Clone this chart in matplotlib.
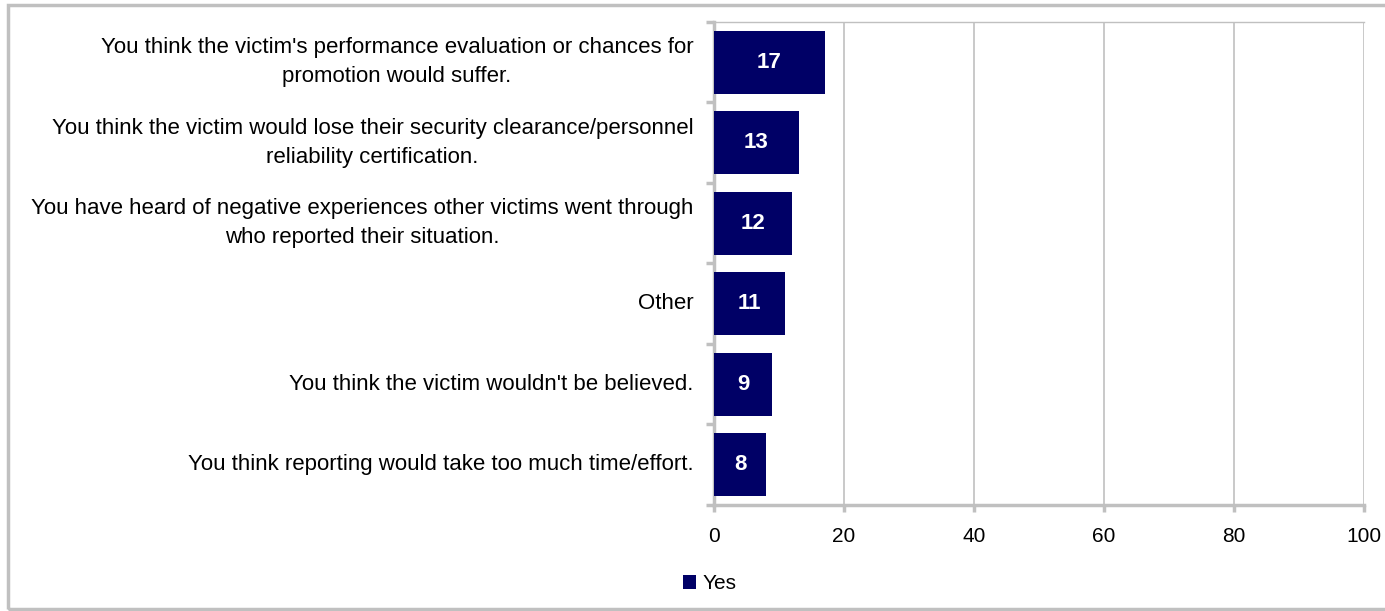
import matplotlib.pyplot as plt
from matplotlib.patches import Rectangle

plt.rcParams['font.family'] = ['Liberation Sans', 'DejaVu Sans']

# categories from top to bottom
categories = [
    "You think the victim's performance evaluation or chances for\npromotion would suffer.",
    "You think the victim would lose their security clearance/personnel\nreliability certification.",
    "You have heard of negative experiences other victims went through\nwho reported their situation.",
    "Other",
    "You think the victim wouldn't be believed.",
    "You think reporting would take too much time/effort.",
]
yes_values = [17, 13, 12, 11, 9, 8]
x_ticks = [0, 20, 40, 60, 80, 100]

navy = '#000066'
grey = '#c0c0c0'

fig = plt.figure(figsize=(13.85, 6.11), dpi=100)
ax = fig.add_axes([0.5155, 0.1735, 0.4695, 0.7905])

n = len(categories)
ypos = list(range(n))[::-1]
bars = ax.barh(ypos, yes_values, height=0.78, color=navy, label='Yes', zorder=3)

for b, v in zip(bars, yes_values):
    ax.text(b.get_x() + b.get_width() / 2, b.get_y() + b.get_height() / 2, str(v),
            ha='center', va='center', color='white', fontsize=16, fontweight='bold', zorder=4)

ax.set_xlim(0, 100)
ax.set_ylim(-0.5, n - 0.5)
ax.set_xticks(x_ticks)
ax.set_xticklabels([str(t) for t in x_ticks], fontsize=15)
ax.xaxis.grid(True, color=grey, linewidth=1.2, zorder=0)

# category labels, tick marks at category boundaries
ax.set_yticks([y - 0.5 for y in range(n + 1)])
ax.set_yticklabels([])
ax.tick_params(axis='y', length=6, width=2.5, color=grey)
ax.tick_params(axis='x', length=5, width=2.5, color=grey, pad=11)
for y, lab in zip(ypos, categories):
    ax.text(-0.032, y, lab, transform=ax.get_yaxis_transform(), ha='right', va='center',
            multialignment='center', fontsize=16, linespacing=1.5)

for s in ['left', 'bottom']:
    ax.spines[s].set_color(grey)
    ax.spines[s].set_linewidth(2.5)
ax.spines['top'].set_color(grey)
ax.spines['top'].set_linewidth(1)
ax.spines['right'].set_visible(False)

fig.legend(handles=[bars], labels=['Yes'], loc='center', bbox_to_anchor=(0.5125, 0.045),
           frameon=False, fontsize=15, handlelength=0.65, handleheight=0.65, handletextpad=0.3)

# outer chart frame
fig.patches.append(Rectangle((8 / 1385, 2 / 611), 1385 / 1385, 604 / 611, transform=fig.transFigure,
                             fill=False, edgecolor=grey, linewidth=2.5))

fig.savefig('out.png', dpi=100)
